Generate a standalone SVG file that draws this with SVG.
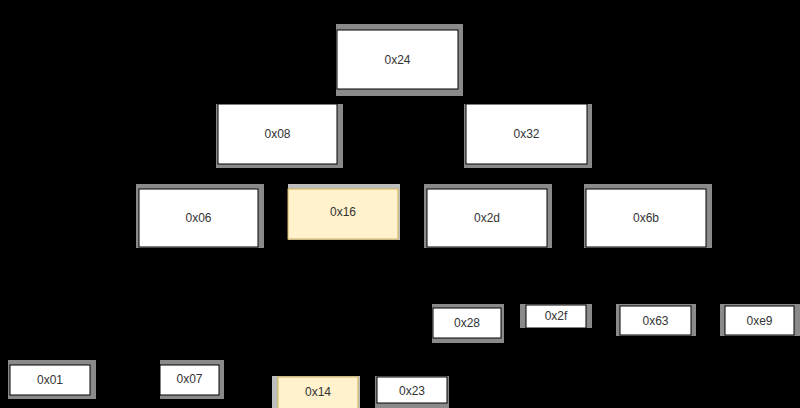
<svg xmlns="http://www.w3.org/2000/svg" width="800" height="408" viewBox="0 0 800 408">
<defs>
<style>
.bg{fill:#000}
.sh{fill:#8a8a8a}
.shl{fill:#bdbdbd}
.box{fill:#fff;stroke:#000;stroke-width:1}
.hl{fill:#fff2cc;stroke:#d6b656;stroke-width:1}
.t{font-family:"Liberation Sans",Arial,sans-serif;font-size:12px;fill:#333;text-anchor:middle;dominant-baseline:central}
.e{fill:none;stroke:#000;stroke-width:1}
</style>
<marker id="ah" viewBox="0 0 10 10" refX="9" refY="5" markerWidth="7" markerHeight="7" orient="auto">
<path d="M0,0 L10,5 L0,10 z" fill="#000"/>
</marker>
</defs>
<rect class="bg" x="0" y="0" width="800" height="408"/>
<g id="connectors">
<path class="e" d="M337,73 H277 V104" marker-end="url(#ah)"/>
<path class="e" d="M458,73 H526 V104" marker-end="url(#ah)"/>
<path class="e" d="M240,164 L232,189" marker-end="url(#ah)"/>
<path class="e" d="M315,164 L319,189" marker-end="url(#ah)"/>
<path class="e" d="M510,164 L507,189" marker-end="url(#ah)"/>
<path class="e" d="M590,164 L598,189" marker-end="url(#ah)"/>
<path class="e" d="M480,247 L470,308" marker-end="url(#ah)"/>
<path class="e" d="M530,247 L547,305" marker-end="url(#ah)"/>
<path class="e" d="M620,247 L653,306" marker-end="url(#ah)"/>
<path class="e" d="M690,247 L742,306" marker-end="url(#ah)"/>
<path class="e" d="M160,247 L65,365" marker-end="url(#ah)"/>
<path class="e" d="M220,247 L189,365" marker-end="url(#ah)"/>
<path class="e" d="M342,239 L321,377" marker-end="url(#ah)"/>
<path class="e" d="M370,239 L400,377" marker-end="url(#ah)"/>
</g>
<g id="n0x24">
<rect class="sh" x="336" y="24" width="127" height="72"/>
<rect class="box" x="337" y="30" width="121" height="59"/>
<text class="t" x="397.5" y="59.5">0x24</text>
</g>
<g id="n0x08">
<rect class="sh" x="216" y="104" width="127" height="64"/>
<rect class="box" x="218" y="104" width="119" height="60"/>
<text class="t" x="277.5" y="134">0x08</text>
</g>
<g id="n0x32">
<rect class="sh" x="464" y="104" width="128" height="64"/>
<rect class="box" x="466" y="104" width="121" height="60"/>
<text class="t" x="526.5" y="134">0x32</text>
</g>
<g id="n0x06">
<rect class="sh" x="136" y="184" width="128" height="64"/>
<rect class="box" x="139" y="189" width="119" height="58"/>
<text class="t" x="198.5" y="218">0x06</text>
</g>
<g id="n0x16">
<rect class="shl" x="288" y="184" width="112" height="56"/>
<rect class="hl" x="288" y="189" width="110" height="50"/>
<text class="t" x="343" y="212">0x16</text>
</g>
<g id="n0x2d">
<rect class="sh" x="424" y="184" width="128" height="64"/>
<rect class="box" x="427" y="189" width="120" height="58"/>
<text class="t" x="487" y="218">0x2d</text>
</g>
<g id="n0x6b">
<rect class="sh" x="584" y="184" width="128" height="64"/>
<rect class="box" x="586" y="189" width="120" height="58"/>
<text class="t" x="646" y="218">0x6b</text>
</g>
<g id="n0x28">
<rect class="sh" x="432" y="304" width="72" height="39"/>
<rect class="box" x="433" y="308" width="68" height="30"/>
<text class="t" x="467" y="323">0x28</text>
</g>
<g id="n0x2f">
<rect class="sh" x="520" y="304" width="72" height="24"/>
<rect class="box" x="526" y="305" width="60" height="23"/>
<text class="t" x="556" y="316">0x2f</text>
</g>
<g id="n0x63">
<rect class="sh" x="616" y="304" width="80" height="32"/>
<rect class="box" x="620" y="306" width="71" height="29"/>
<text class="t" x="655.5" y="320.5">0x63</text>
</g>
<g id="n0xe9">
<rect class="sh" x="720" y="304" width="80" height="32"/>
<rect class="box" x="725" y="306" width="69" height="29"/>
<text class="t" x="759.5" y="320.5">0xe9</text>
</g>
<g id="n0x01">
<rect class="sh" x="8" y="360" width="88" height="39"/>
<rect class="box" x="10" y="365" width="80" height="30"/>
<text class="t" x="50" y="380">0x01</text>
</g>
<g id="n0x07">
<rect class="sh" x="160" y="360" width="64" height="39"/>
<rect class="box" x="160" y="365" width="59" height="30"/>
<text class="t" x="189.5" y="379">0x07</text>
</g>
<g id="n0x14">
<rect class="shl" x="272" y="376" width="88" height="32"/>
<rect class="hl" x="278" y="377" width="80" height="32"/>
<text class="t" x="318" y="392">0x14</text>
</g>
<g id="n0x23">
<rect class="sh" x="375" y="376" width="74" height="32"/>
<rect class="box" x="377" y="377" width="70" height="26"/>
<text class="t" x="412" y="391">0x23</text>
</g>
</svg>
